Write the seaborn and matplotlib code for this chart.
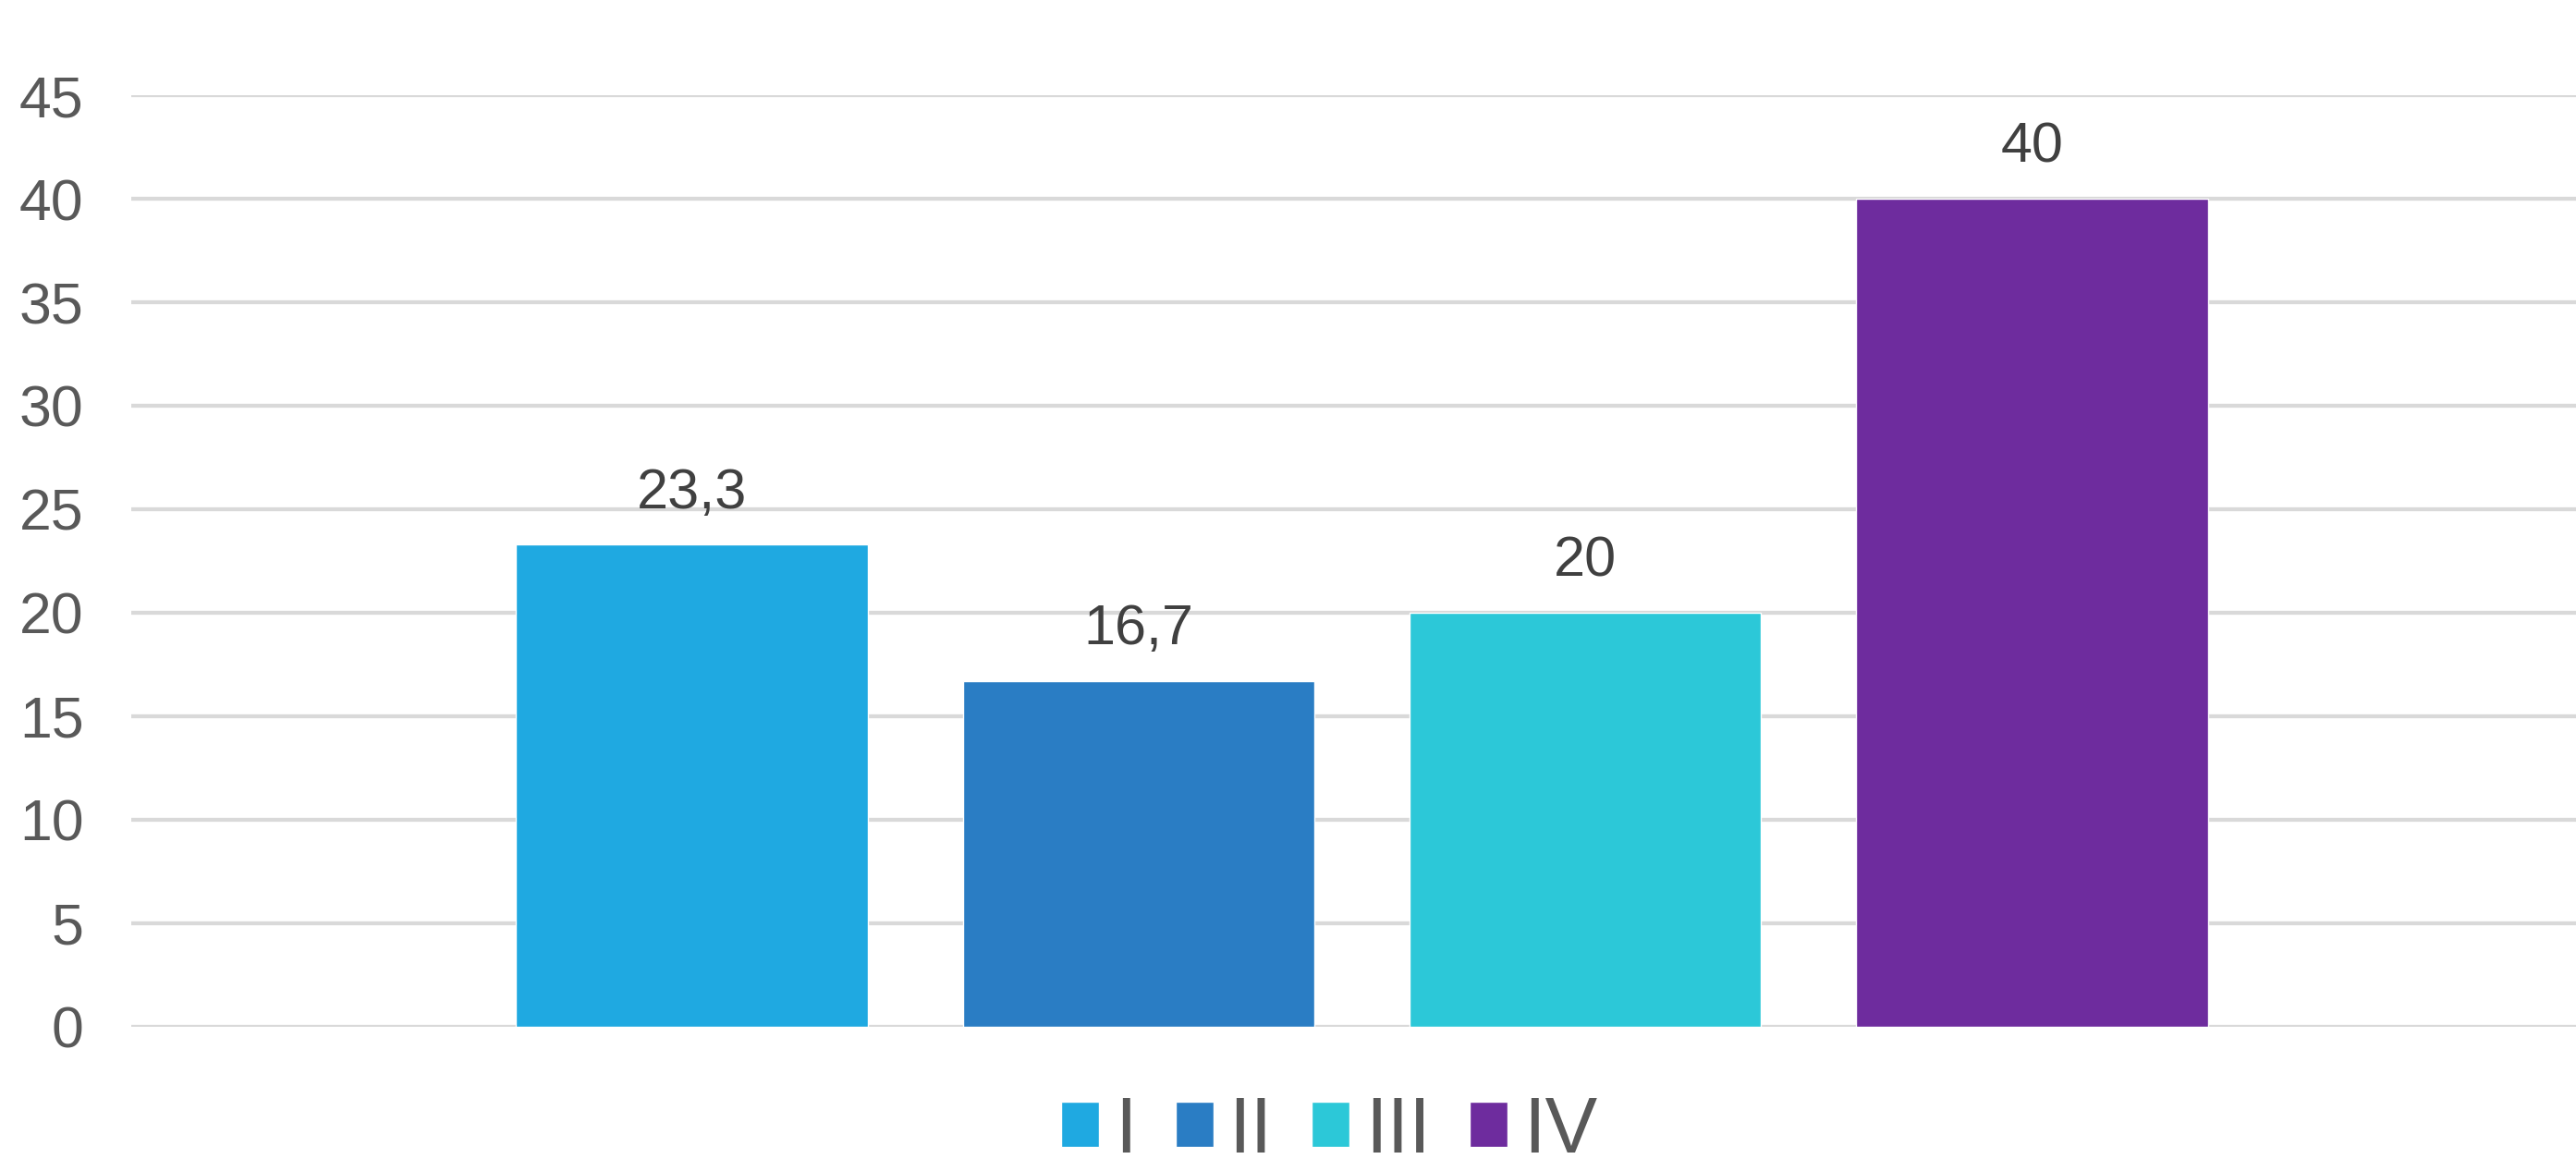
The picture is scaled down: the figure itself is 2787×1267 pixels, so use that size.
import matplotlib
matplotlib.use("Agg")
import matplotlib.pyplot as plt
import seaborn as sns
import pandas as pd

categories = ["I", "II", "III", "IV"]
values = [23.3, 16.7, 20, 40]
colors = ["#1FA9E1", "#2A7DC4", "#2CC8D8", "#6E2C9E"]
yticks = [0, 5, 10, 15, 20, 25, 30, 35, 40, 45]

sns.set_theme(style="white")
plt.rcParams['font.family'] = ['Liberation Sans', 'DejaVu Sans']

df = pd.DataFrame({"cat": categories, "val": values})

fig = plt.figure(figsize=(27.87, 12.67), dpi=100)
ax = fig.add_axes([0.051, 0.1234, 0.949, 0.7952])

sns.barplot(data=df, x="cat", y="val", hue="cat", palette=colors,
            width=0.787, dodge=False, legend=True, ax=ax, saturation=1)

ax.set_ylim(0, 45)
ax.set_xlim(-1.254, 4.217)
ax.set_yticks(yticks)
ax.set_yticklabels([str(t) for t in yticks])
ax.set_xticks([])
ax.set_xlabel("")
ax.set_ylabel("")
ax.yaxis.grid(True, color="#d9d9d9", linewidth=3.1)
ax.set_axisbelow(True)
for s in ax.spines.values():
    s.set_visible(False)
ax.tick_params(axis="y", length=0, pad=37, labelsize=45, labelcolor="#595959")

for cont, v in zip(ax.containers, values):
    ax.bar_label(cont, labels=[f"{v:g}".replace(".", ",")], padding=19,
                 fontsize=44, color="#404040")

handles, labels = ax.get_legend_handles_labels()
if ax.get_legend() is not None:
    ax.get_legend().remove()
fig.legend(handles, labels, loc="center", bbox_to_anchor=(0.516, 0.0335),
           ncol=4, frameon=False, fontsize=61, labelcolor="#595959",
           handlelength=0.48, handleheight=0.5, handletextpad=0.2,
           columnspacing=0.5, borderaxespad=0, borderpad=0.1)

fig.savefig("out.png", dpi=100)
